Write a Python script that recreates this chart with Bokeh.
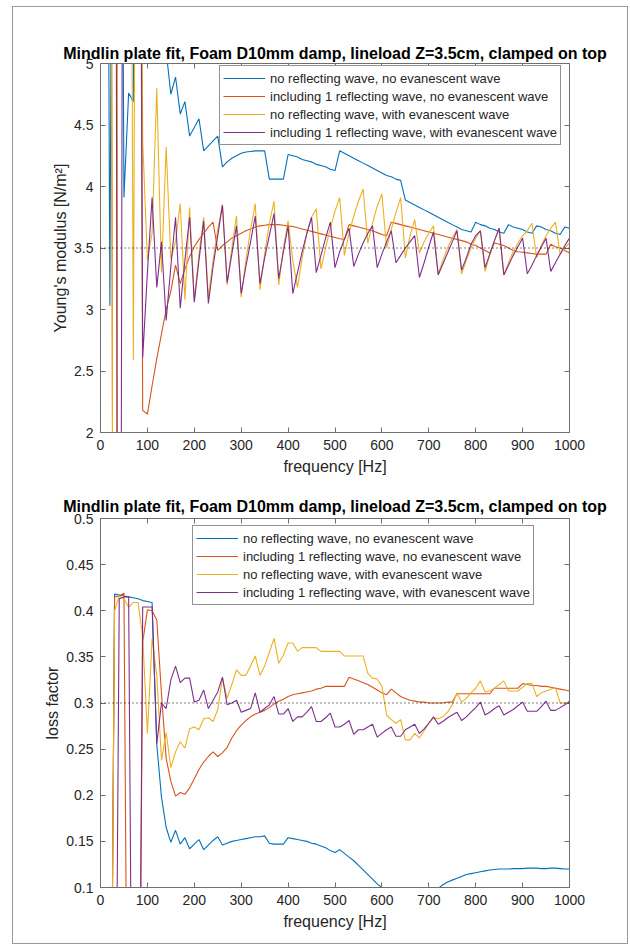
from bokeh.plotting import figure
from bokeh.models import (FixedTicker, LinearAxis, Span, Label, Legend, LegendItem,
                          Range1d, CustomJSTickFormatter)
from bokeh.layouts import column
from bokeh.embed import file_html
from bokeh.resources import INLINE

# ---------------- data ----------------
freq = list(range(10, 1001, 10))

# Young's modulus [x1e9 N/m^2]
E_nr_ne = [12, 3.03, 12, 12, 3.91, 4.76, 4.69, 12, 9, 8,
           7, 6, 5.5, 5.1, 4.75, 4.89, 4.59, 4.69, 4.41, 4.48,
           4.55, 4.29, 4.33, 4.37, 4.41, 4.16, 4.20, 4.23, 4.25, 4.27,
           4.28, 4.285, 4.29, 4.29, 4.29, 4.06, 4.06, 4.06, 4.06, 4.26,
           4.25, 4.24, 4.22, 4.21, 4.20, 4.18, 4.17, 4.16, 4.14, 4.13,
           4.29, 4.27, 4.25, 4.23, 4.21, 4.19, 4.17, 4.15, 4.13, 4.11,
           4.09, 4.08, 4.06, 4.05, 3.89, 3.87, 3.85, 3.83, 3.81, 3.79,
           3.77, 3.75, 3.73, 3.71, 3.69, 3.67, 3.65, 3.64, 3.63, 3.71,
           3.69, 3.68, 3.66, 3.65, 3.63, 3.62, 3.69, 3.67, 3.66, 3.65,
           3.63, 3.62, 3.68, 3.67, 3.65, 3.64, 3.62, 3.61, 3.67, 3.66]
E_r1_ne = [12, 12, -6, 12, 12, 12, 12, 12, 2.18, 2.15,
           2.38, 2.60, 2.80, 3.00, 3.15, 3.36, 3.21, 3.33, 3.43, 3.51,
           3.57, 3.62, 3.67, 3.71, 3.48, 3.52, 3.55, 3.58, 3.60, 3.62,
           3.64, 3.655, 3.67, 3.68, 3.685, 3.69, 3.69, 3.69, 3.685, 3.68,
           3.675, 3.665, 3.655, 3.645, 3.635, 3.625, 3.615, 3.605, 3.595, 3.585,
           3.575, 3.57, 3.69, 3.68, 3.67, 3.66, 3.65, 3.64, 3.625, 3.61,
           3.60, 3.71, 3.70, 3.69, 3.68, 3.67, 3.66, 3.65, 3.64, 3.63,
           3.62, 3.61, 3.60, 3.59, 3.58, 3.57, 3.56, 3.55, 3.53, 3.52,
           3.50, 3.48, 3.46, 3.54, 3.53, 3.52, 3.50, 3.48, 3.47, 3.465,
           3.46, 3.455, 3.45, 3.45, 3.45, 3.53, 3.51, 3.50, 3.48, 3.46]
E_nr_we = [12, 12, -6, 12, 12, 12, 2.59, 12, 4.37, 3.40,
           3.62, 4.80, 3.30, 4.32, 3.41, 3.55, 3.86, 3.08, 3.83, 3.08,
           3.45, 3.75, 3.10, 3.40, 3.65, 3.85, 3.20, 3.50, 3.76, 3.10,
           3.40, 3.65, 3.86, 3.16, 3.45, 3.70, 3.88, 3.20, 3.50, 3.72,
           3.40, 3.18, 3.42, 3.62, 3.75, 3.82, 3.33, 3.50, 3.66, 3.80,
           3.91, 3.44, 3.62, 3.76, 3.88, 3.98, 3.54, 3.70, 3.84, 3.94,
           3.50, 3.65, 3.79, 3.91, 3.42, 3.60, 3.73, 3.46, 3.55, 3.62,
           3.68, 3.29, 3.40, 3.50, 3.58, 3.65, 3.29, 3.40, 3.50, 3.58,
           3.64, 3.31, 3.44, 3.56, 3.66, 3.28, 3.38, 3.47, 3.54, 3.60,
           3.64, 3.70, 3.42, 3.52, 3.60, 3.66, 3.71, 3.45, 3.50, 3.54]
E_r1_we = [12, 12, 12, -6, 12, 12, 12, 12, 2.61, 3.30,
           3.91, 3.18, 3.55, 2.91, 3.35, 3.75, 3.01, 3.40, 3.75, 3.06,
           3.40, 3.72, 3.05, 3.35, 3.60, 3.85, 3.22, 3.45, 3.68, 3.13,
           3.35, 3.55, 3.76, 3.21, 3.42, 3.60, 3.78, 3.25, 3.47, 3.68,
           3.13, 3.30, 3.47, 3.62, 3.75, 3.30, 3.44, 3.58, 3.71, 3.34,
           3.47, 3.57, 3.66, 3.35, 3.45, 3.54, 3.62, 3.68, 3.34, 3.45,
           3.55, 3.64, 3.38, 3.44, 3.50, 3.55, 3.60, 3.26, 3.38, 3.51,
           3.63, 3.28, 3.37, 3.46, 3.55, 3.64, 3.32, 3.42, 3.53, 3.60,
           3.64, 3.34, 3.45, 3.56, 3.66, 3.28, 3.36, 3.44, 3.51, 3.58,
           3.29, 3.36, 3.44, 3.51, 3.58, 3.31, 3.38, 3.45, 3.52, 3.58]

# loss factor
eta_nr_ne = [-0.3, -0.3, 0.418, 0.417, 0.416, 0.415, 0.414, 0.413, 0.411, 0.410,
             0.409, 0.255, 0.198, 0.165, 0.149, 0.162, 0.147, 0.154, 0.142, 0.147,
             0.152, 0.141, 0.146, 0.151, 0.155, 0.146, 0.148, 0.150, 0.151, 0.152,
             0.153, 0.154, 0.155, 0.155, 0.156, 0.148, 0.147, 0.147, 0.147, 0.154,
             0.153, 0.152, 0.151, 0.150, 0.148, 0.147, 0.145, 0.143, 0.140, 0.138,
             0.141, 0.137, 0.133, 0.129, 0.124, 0.119, 0.114, 0.109, 0.104, 0.100,
             0.094, 0.088, 0.083, 0.079, 0.077, 0.076, 0.077, 0.080, 0.084, 0.089,
             0.094, 0.099, 0.103, 0.106, 0.108, 0.110, 0.112, 0.114, 0.115, 0.116,
             0.117, 0.118, 0.119, 0.1195, 0.120, 0.120, 0.120, 0.1205, 0.1205, 0.1205,
             0.121, 0.121, 0.121, 0.1205, 0.1205, 0.121, 0.121, 0.1205, 0.120, 0.120]
eta_r1_ne = [-0.3, -0.3, 0.415, 0.416, 0.419, -0.3, -0.3, -0.3, 0.366, 0.401,
             0.400, 0.390, 0.310, 0.240, 0.215, 0.199, 0.203, 0.201, 0.208, 0.218,
             0.228, 0.236, 0.242, 0.247, 0.242, 0.246, 0.252, 0.262, 0.270, 0.276,
             0.281, 0.285, 0.288, 0.290, 0.292, 0.295, 0.299, 0.302, 0.304, 0.307,
             0.309, 0.310, 0.311, 0.312, 0.313, 0.315, 0.316, 0.318, 0.318, 0.318,
             0.318, 0.318, 0.328, 0.326, 0.324, 0.322, 0.320, 0.317, 0.314, 0.311,
             0.309, 0.315, 0.311, 0.307, 0.305, 0.303, 0.302, 0.301, 0.301, 0.300,
             0.300, 0.300, 0.300, 0.301, 0.301, 0.310, 0.310, 0.310, 0.310, 0.310,
             0.310, 0.310, 0.310, 0.316, 0.316, 0.316, 0.316, 0.316, 0.316, 0.321,
             0.320, 0.319, 0.319, 0.318, 0.318, 0.317, 0.316, 0.315, 0.314, 0.313]
eta_nr_we = [-0.3, -0.3, 0.400, 0.416, 0.413, 0.404, 0.409, 0.409, 0.372, 0.267,
             0.370, 0.330, 0.238, 0.268, 0.230, 0.247, 0.258, 0.251, 0.272, 0.274,
             0.271, 0.283, 0.284, 0.280, 0.293, 0.327, 0.305, 0.320, 0.336, 0.330,
             0.330, 0.340, 0.351, 0.330, 0.340, 0.355, 0.370, 0.343, 0.352, 0.365,
             0.365, 0.356, 0.360, 0.360, 0.360, 0.360, 0.356, 0.356, 0.356, 0.356,
             0.356, 0.351, 0.351, 0.351, 0.351, 0.351, 0.332, 0.327, 0.326, 0.318,
             0.287, 0.282, 0.278, 0.282, 0.260, 0.260, 0.267, 0.262, 0.270, 0.278,
             0.284, 0.283, 0.285, 0.290, 0.298, 0.311, 0.301, 0.305, 0.311, 0.316,
             0.324, 0.312, 0.313, 0.316, 0.320, 0.324, 0.313, 0.313, 0.313, 0.317,
             0.321, 0.321, 0.307, 0.311, 0.313, 0.315, 0.317, 0.300, 0.300, 0.300]
eta_r1_we = [-0.3, -0.3, -0.3, 0.413, 0.415, 0.415, -0.3, -0.3, 0.404, 0.404,
             0.404, 0.256, 0.300, 0.294, 0.325, 0.340, 0.322, 0.327, 0.327, 0.301,
             0.303, 0.314, 0.294, 0.303, 0.312, 0.328, 0.298, 0.300, 0.303, 0.290,
             0.292, 0.294, 0.311, 0.290, 0.294, 0.298, 0.307, 0.288, 0.288, 0.294,
             0.280, 0.285, 0.285, 0.290, 0.296, 0.280, 0.280, 0.284, 0.289, 0.274,
             0.274, 0.277, 0.281, 0.266, 0.271, 0.271, 0.274, 0.277, 0.263, 0.267,
             0.271, 0.274, 0.264, 0.264, 0.271, 0.274, 0.277, 0.267, 0.272, 0.278,
             0.285, 0.277, 0.280, 0.284, 0.287, 0.290, 0.281, 0.285, 0.290, 0.295,
             0.301, 0.287, 0.290, 0.294, 0.297, 0.287, 0.290, 0.293, 0.297, 0.301,
             0.291, 0.291, 0.291, 0.296, 0.302, 0.292, 0.292, 0.295, 0.298, 0.302]

E_ref = 3.5
eta_ref = 0.3

legend_labels = ["no reflecting wave, no evanescent wave",
                 "including 1 reflecting wave, no evanescent wave",
                 "no reflecting wave, with evanescent wave",
                 "including 1 reflecting wave, with evanescent wave"]
title_text = "Mindlin plate fit, Foam D10mm damp, lineload Z=3.5cm, clamped on top"
x_ticks = [0, 100, 200, 300, 400, 500, 600, 700, 800, 900, 1000]
E_ticks = [2, 2.5, 3, 3.5, 4, 4.5, 5]
eta_ticks = [0.1, 0.15, 0.2, 0.25, 0.3, 0.35, 0.4, 0.45, 0.5]

# ---------------- styling ----------------
COLORS = ["#0072BD", "#D95319", "#EDB120", "#7E2F8E"]
FONT = "Liberation Sans"
TXT = "#262626"
AX = "#6e6e6e"


def style_axis(ax):
    ax.axis_line_color = AX
    ax.major_tick_line_color = AX
    ax.minor_tick_line_color = None
    ax.major_tick_in = 5
    ax.major_tick_out = 0
    ax.major_label_text_font = FONT
    ax.major_label_text_color = TXT
    ax.major_label_text_font_size = "14px"
    ax.axis_label_text_font = FONT
    ax.axis_label_text_color = TXT
    ax.axis_label_text_font_style = "normal"
    ax.axis_label_text_font_size = "16px"


def tick_only_axis(ticks):
    # an axis that draws only (label-free) minor tick marks, for the MATLAB box
    ax = LinearAxis(ticker=FixedTicker(ticks=[], minor_ticks=ticks))
    ax.axis_line_color = AX
    ax.major_tick_line_color = None
    ax.minor_tick_line_color = AX
    ax.minor_tick_in = 5
    ax.minor_tick_out = 0
    ax.major_label_standoff = 0
    return ax


def make_panel(series, yr, yticks, fmt_digits, ylabel, ref, leg_loc, top_border, height,
               title_standoff):
    p = figure(width=614, height=height, x_range=Range1d(0, 1000), y_range=Range1d(*yr),
               output_backend="svg", toolbar_location=None,
               min_border_left=87, min_border_right=58,
               min_border_top=top_border, min_border_bottom=height - top_border - 369,
               background_fill_color="white", border_fill_color="white")
    p.outline_line_color = None
    p.xgrid.visible = False
    p.ygrid.visible = False
    p.title.text = title_text
    p.title.align = "center"
    p.title.text_font = FONT
    p.title.text_font_size = "16px"
    p.title.text_font_style = "bold"
    p.title.text_color = "#000000"
    p.title.standoff = title_standoff

    fmt = CustomJSTickFormatter(code="return Number(tick.toFixed(%d)).toString();" % fmt_digits)

    p.xaxis.ticker = FixedTicker(ticks=x_ticks)
    p.yaxis.ticker = FixedTicker(ticks=yticks)
    p.yaxis.formatter = fmt
    p.xaxis.axis_label = "frequency [Hz]"
    p.yaxis.axis_label = ylabel
    for ax in p.xaxis:
        style_axis(ax)
        ax.major_label_standoff = 7
        ax.axis_label_standoff = 5
    for ax in p.yaxis:
        style_axis(ax)
        ax.major_label_standoff = 7
        ax.axis_label_standoff = 2

    p.add_layout(tick_only_axis(x_ticks), "above")
    p.add_layout(tick_only_axis(yticks), "right")

    p.add_layout(Span(location=ref, dimension="width", line_color="#000000",
                      line_dash="1 3", line_width=1))

    items = []
    for s, c, lab in zip(series, COLORS, legend_labels):
        r = p.line(freq, s, line_color=c, line_width=1.1)
        items.append(LegendItem(label=lab, renderers=[r]))

    leg = Legend(items=items, location=leg_loc, margin=0, padding=3, spacing=0,
                 label_height=18, glyph_height=18, glyph_width=42, label_standoff=5,
                 label_text_font=FONT, label_text_font_size="13px", label_text_color=TXT,
                 border_line_color="#262626", border_line_width=1,
                 background_fill_color="white", background_fill_alpha=1.0)
    p.add_layout(leg, "center")
    return p


p1 = make_panel([E_nr_ne, E_r1_ne, E_nr_we, E_r1_we], (2, 5), E_ticks, 1,
                "Young's modulus [N/m²]", E_ref, (119, 287), 56, 480, 4)
p1.add_layout(Label(x=0, y=5, x_offset=2, y_offset=-1, text="×10⁹", text_font=FONT,
                    text_font_size="14px", text_color=TXT, text_baseline="bottom"))

p2 = make_panel([eta_nr_ne, eta_r1_ne, eta_nr_we, eta_r1_we], (0.1, 0.5), eta_ticks, 2,
                "loss factor", eta_ref, (92, 282), 31, 456, 7)

layout = column(p1, p2, margin=(6, 0, 0, 12),
                styles={"border": "1px solid #9a9a9a"})

open("out.html", "w").write(file_html(layout, INLINE))
